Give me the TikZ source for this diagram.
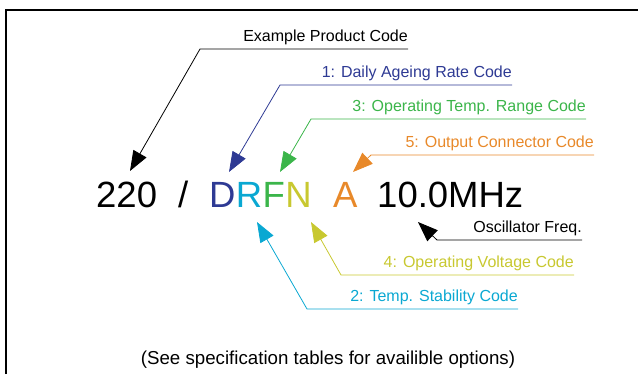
\documentclass[tikz,border=0pt]{standalone}
\usepackage{fontspec}
\setmainfont{Liberation Sans}
\usetikzlibrary{arrows.meta,positioning,calc}
\definecolor{agecol}{HTML}{2E3A94}
\definecolor{stabcol}{HTML}{0AA8D2}
\definecolor{rangecol}{HTML}{3BB54A}
\definecolor{voltcol}{HTML}{C8C830}
\definecolor{conncol}{HTML}{E8892A}
\tikzset{
    code/.style = {anchor=base west, inner sep=0pt,
        font=\fontsize{36.5bp}{40bp}\selectfont},
    tag/.style = {anchor=south east, inner xsep=0pt, inner ysep=7bp,
        text depth=0pt, font=\fontsize{16bp}{18bp}\selectfont},
    pointer/.style = {draw, line width=0.8bp, -{Triangle[length=20bp,width=15bp]}},
    frame/.style = {draw, line width=1.2bp}
}

\begin{document}
\begin{tikzpicture}[x=1bp, y=-1bp]
    \useasboundingbox (0,0) rectangle (638,374);
    \draw[frame] (6,374) -- (6,10) -- (638,10);
    % product code
    \node[code] (num) at (96,207) {220};
    \node[code] (slash) at (178,207) {/};
    \node[code, text=agecol] (cD) at (209,207) {D};
    \node[code, text=stabcol, base right=0pt of cD] (cR) {R};
    \node[code, text=rangecol, base right=0pt of cR] (cF) {F};
    \node[code, text=voltcol, base right=0pt of cF] (cN) {N};
    \node[code, text=conncol] (cA) at (333,207) {A};
    \node[code] (freq) at (377,207) {10.0MHz};
    % labels above
    \node[tag] (exam) at (408,49) {Example Product Code};
    \node[tag, text=agecol] (age) at (512,85) {1: Daily Ageing Rate Code};
    \node[tag, text=rangecol] (range) at (586,119) {3: Operating Temp. Range Code};
    \node[tag, text=conncol] (conn) at (594,155) {5: Output Connector Code};
    % labels below
    \node[tag] (osc) at (582,240) {Oscillator Freq.};
    \node[tag, text=voltcol] (volt) at (574,275) {4: Operating Voltage Code};
    \node[tag, text=stabcol] (stab) at (518,309) {2: Temp. Stability Code};
    % bends and tips
    \coordinate (exambend) at (200,49);
    \coordinate (examtip) at (130,171);
    \coordinate (agebend) at (280,85);
    \coordinate (agetip) at (229,172);
    \coordinate (rangebend) at (311,119);
    \coordinate (rangetip) at (280,172);
    \coordinate (connbend) at (371,155);
    \coordinate (conntip) at (353,172);
    \coordinate (oscbend) at (437,240);
    \coordinate (osctip) at (418,222);
    \coordinate (voltbend) at (341,275);
    \coordinate (volttip) at (311,222);
    \coordinate (stabbend) at (307,309);
    \coordinate (stabtip) at (257,222);
    \draw[pointer] (exam.south east) -- (exambend) -- (examtip);
    \draw[pointer, agecol] (age.south east) -- (agebend) -- (agetip);
    \draw[pointer, rangecol] (range.south east) -- (rangebend) -- (rangetip);
    \draw[pointer, conncol] (conn.south east) -- (connbend) -- (conntip);
    \draw[pointer] (osc.south east) -- (oscbend) -- (osctip);
    \draw[pointer, voltcol] (volt.south east) -- (voltbend) -- (volttip);
    \draw[pointer, stabcol] (stab.south east) -- (stabbend) -- (stabtip);
    \node[anchor=base, font=\fontsize{18.7bp}{21bp}\selectfont] (note) at (328,364)
        {(See specification tables for availible options)};
\end{tikzpicture}
\end{document}
